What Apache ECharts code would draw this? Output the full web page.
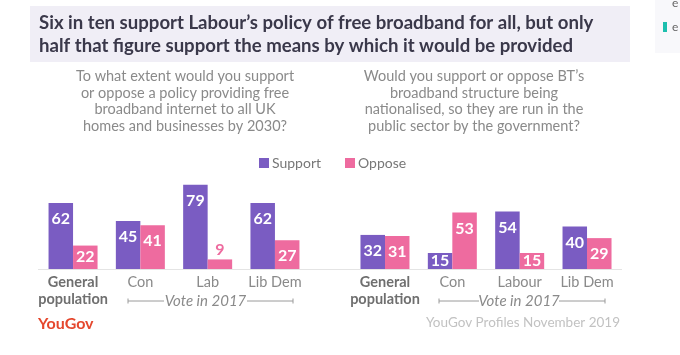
<!DOCTYPE html>
<html><head><meta charset="utf-8">
<script src="https://cdn.jsdelivr.net/npm/echarts@6/dist/echarts.min.js"></script>
<style>html,body{margin:0;padding:0;background:#fff}#c{width:680px;height:355px}</style>
</head><body><div id="c"></div>
<script>
const categoriesLeft = ['General population', 'Con', 'Lab', 'Lib Dem'];
const categoriesRight = ['General population', 'Con', 'Labour', 'Lib Dem'];
const supportLeft = [62, 45, 79, 62];
const opposeLeft = [22, 41, 9, 27];
const supportRight = [32, 15, 54, 40];
const opposeRight = [31, 53, 15, 29];
const seriesNames = ['Support', 'Oppose'];

const PURPLE = '#7a5cc2', PINK = '#ee6b9f';
const FONT = 'Lato, "Open Sans", sans-serif';

function labelFor(v, color) {
  if (v < 12) return {show: true, position: 'top', distance: 2, color: color, fontSize: 16, fontWeight: 'bold', fontFamily: FONT};
  if (v < 25) return {show: true, position: 'inside', color: '#fff', fontSize: 16, fontWeight: 'bold', fontFamily: FONT};
  return {show: true, position: 'insideTop', distance: 8, color: '#fff', fontSize: 16, fontWeight: 'bold', fontFamily: FONT};
}
function makeData(arr, color) {
  return arr.map(v => ({value: v, label: labelFor(v, color)}));
}
function xAxisFor(cats, gi) {
  return {
    type: 'category', gridIndex: gi, data: cats,
    axisLine: {show: false}, axisTick: {show: false},
    axisLabel: {
      margin: 5, verticalAlign: 'top', interval: 0,
      formatter: v => v === 'General population' ? '{b|General\npopulation}' : '{n|' + v + '}',
      rich: {
        b: {fontFamily: FONT, fontSize: 14.5, fontWeight: 'bold', color: '#6f6f6f', lineHeight: 17, align: 'center'},
        n: {fontFamily: FONT, fontSize: 14.5, color: '#8a8a8a', lineHeight: 17}
      }
    }
  };
}
function yAxisFor(gi) {
  return {type: 'value', gridIndex: gi, min: 0, max: 100, show: false, splitLine: {show: false}};
}
function barSeries(name, data, color, gi) {
  return {
    name: name, type: 'bar', xAxisIndex: gi, yAxisIndex: gi,
    data: makeData(data, color), barWidth: 24.5, barGap: '0%',
    itemStyle: {color: color}, emphasis: {disabled: true}, animation: false
  };
}
function voteLine(x1, x2, t1, t2, y) {
  const st = {stroke: '#9a9a9a', lineWidth: 1};
  return [
    {type: 'line', shape: {x1: x1, y1: y, x2: t1, y2: y}, style: st},
    {type: 'line', shape: {x1: t2, y1: y, x2: x2, y2: y}, style: st},
    {type: 'line', shape: {x1: x1, y1: y - 2.5, x2: x1, y2: y + 2.5}, style: st},
    {type: 'line', shape: {x1: x2, y1: y - 2.5, x2: x2, y2: y + 2.5}, style: st},
    {type: 'text', x: (t1 + t2) / 2, y: y, style: {text: 'Vote in 2017', fill: '#8a8a8a', font: 'italic 15px ' + FONT, textAlign: 'center', textVerticalAlign: 'middle'}}
  ];
}

const chart = echarts.init(document.getElementById('c'), null, {renderer: 'canvas'});
chart.setOption({
  backgroundColor: '#fff',
  animation: false,
  legend: {
    data: seriesNames, left: 254, top: 151, itemWidth: 10, itemHeight: 10, itemGap: 24,
    icon: 'rect', textStyle: {fontFamily: FONT, fontSize: 14, color: '#777', padding: [0, 0, 0, -2]}
  },
  grid: [
    {left: 39.4, width: 269.2, top: 162.5, height: 106.5},
    {left: 351.3, width: 269.4, top: 162.5, height: 106.5}
  ],
  xAxis: [xAxisFor(categoriesLeft, 0), xAxisFor(categoriesRight, 1)],
  yAxis: [yAxisFor(0), yAxisFor(1)],
  series: [
    barSeries(seriesNames[0], supportLeft, PURPLE, 0),
    barSeries(seriesNames[1], opposeLeft, PINK, 0),
    barSeries(seriesNames[0], supportRight, PURPLE, 1),
    barSeries(seriesNames[1], opposeRight, PINK, 1)
  ],
  graphic: [
    {type: 'rect', shape: {x: 30, y: 6, width: 600, height: 56}, style: {fill: '#f0eef6'}, z: -1},
    {type: 'text', x: 39, y: 23, style: {text: 'Six in ten support Labour\u2019s policy of free broadband for all, but only', fill: '#3a384a', font: 'bold 18.6px ' + FONT, textVerticalAlign: 'middle'}},
    {type: 'text', x: 39, y: 45.5, style: {text: 'half that figure support the means by which it would be provided', fill: '#3a384a', font: 'bold 18.6px ' + FONT, textVerticalAlign: 'middle'}},
    {type: 'rect', shape: {x: 655, y: 0, width: 25, height: 53}, style: {fill: '#f8f8fb'}, z: -1},
    {type: 'rect', shape: {x: 663, y: 22, width: 4, height: 10}, style: {fill: '#1dbfae'}},
    {type: 'text', x: 672, y: 27, style: {text: 'e', fill: '#666', font: '12px ' + FONT, textVerticalAlign: 'middle'}},
    {type: 'text', x: 672, y: 3, style: {text: 'e', fill: '#666', font: '12px ' + FONT, textVerticalAlign: 'middle'}},
    {type: 'text', x: 185, y: 101.5, style: {text: 'To what extent would you support\nor oppose a policy providing free\nbroadband internet to all UK\nhomes and businesses by 2030?', fill: '#8a8a8a', font: '14.5px ' + FONT, textAlign: 'center', textVerticalAlign: 'middle', lineHeight: 16.5}},
    {type: 'text', x: 474, y: 101.5, style: {text: 'Would you support or oppose BT\u2019s\nbroadband structure being\nnationalised, so they are run in the\npublic sector by the government?', fill: '#8a8a8a', font: '14.5px ' + FONT, textAlign: 'center', textVerticalAlign: 'middle', lineHeight: 16.5}},
    {type: 'line', shape: {x1: 38, y1: 269.5, x2: 622, y2: 269.5}, style: {stroke: '#e4e4e4', lineWidth: 1}},
    ...voteLine(128, 293, 164, 247, 301),
    ...voteLine(439, 605, 479, 559, 301),
    {type: 'text', x: 38, y: 324, style: {text: 'YouGov', fill: '#e5472d', font: 'bold 16px ' + FONT, textVerticalAlign: 'middle'}},
    {type: 'text', x: 620, y: 323, style: {text: 'YouGov Profiles November 2019', fill: '#c2c2c2', font: '13.5px ' + FONT, textAlign: 'right', textVerticalAlign: 'middle'}}
  ]
});
</script></body></html>
